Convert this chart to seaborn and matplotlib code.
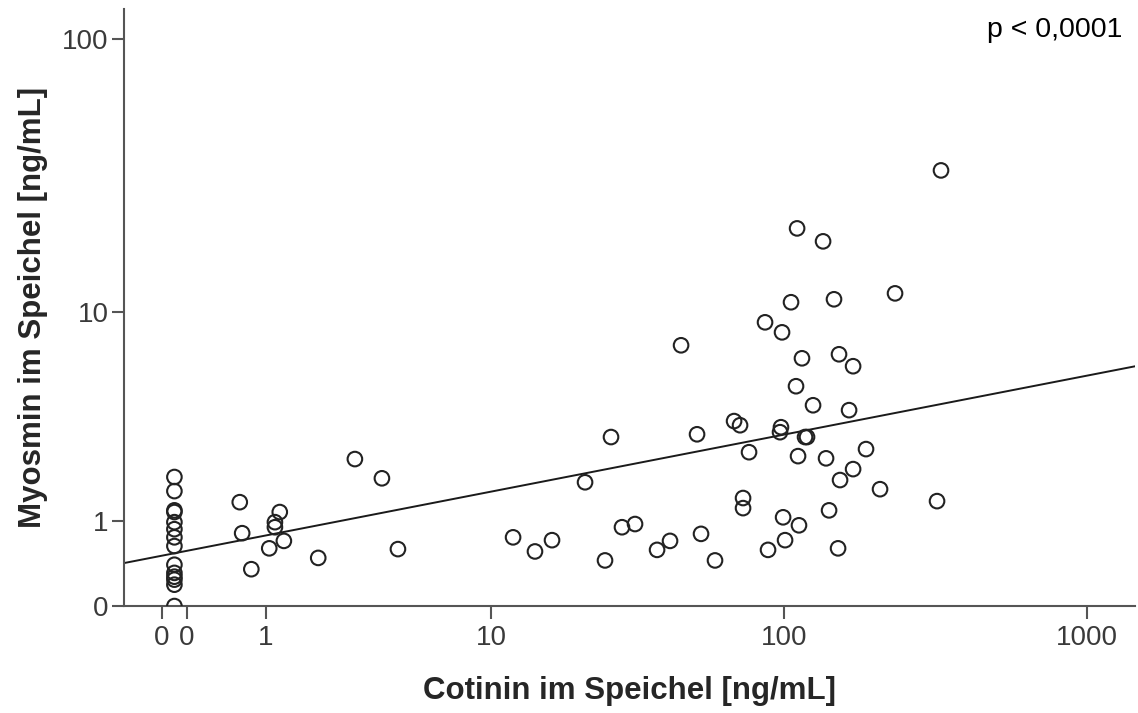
import numpy as np
import pandas as pd
import matplotlib
matplotlib.use("Agg")
import matplotlib.pyplot as plt
import seaborn as sns

# Werte (ng/mL)
cotinin = [
    0, 0, 0, 0, 0, 0, 0, 0, 0, 0, 0, 0, 0, 0,
    0.64, 0.67, 0.79, 1.05, 1.14, 1.14, 1.22, 1.29, 1.97, 2.92, 3.81, 4.43,
    11.98, 14.32, 16.43, 21.38, 25.03, 26.24, 28.6, 31.67, 37.6, 41.58,
    45.29, 51.24, 52.84, 58.85, 68.14, 71.34, 76.43, 73.0, 73.0, 86.4,
    88.4, 96.9, 97.6, 98.4, 99.2, 100.7, 105.4, 110.4, 109.5, 111.2,
    112.0, 114.6, 117.3, 119.1, 124.7, 134.6, 137.7, 140.9, 146.3, 150.9,
    152.0, 153.2, 164.1, 169.2, 169.2, 186.7, 207.7, 232.8, 320.3, 330.1,
]
myosmin = [
    1.86, 1.55, 1.18, 1.15, 0.98, 0.87, 0.75, 0.63, 0.40, 0.31, 0.27, 0.24, 0.19, 0.0,
    1.33, 0.81, 0.35, 0.60, 0.98, 0.90, 1.15, 0.70, 0.48, 2.31, 1.83, 0.59,
    0.75, 0.56, 0.71, 1.74, 0.45, 2.96, 0.90, 0.95, 0.58, 0.70,
    7.36, 3.05, 0.80, 0.45, 3.51, 3.36, 2.50, 1.41, 1.22, 9.08,
    0.58, 3.12, 3.29, 8.29, 1.06, 0.71, 10.87, 20.66, 4.99, 2.39,
    0.93, 6.52, 2.96, 2.96, 4.13, 18.49, 2.33, 1.18, 11.16, 0.60,
    6.77, 1.79, 3.93, 6.05, 2.05, 2.59, 1.59, 11.76, 1.35, 33.73,
]

# Regressionsgerade im transformierten Raum (log10(x+1))
fit_intercept = 0.1867
fit_slope = 0.2094

x_ticks = [-0.1, 0.1, 1, 10, 100, 1000]
x_ticklabels = ["0", "0", "1", "10", "100", "1000"]
y_ticks = [0, 1, 10, 100]
y_ticklabels = ["0", "1", "10", "100"]


def safe_log(v):
    v = np.asarray(v, dtype=float)
    return np.sign(v) * np.log10(np.abs(v) + 1)


def safe_exp(t):
    t = np.asarray(t, dtype=float)
    return np.sign(t) * (10 ** np.abs(t) - 1)


df = pd.DataFrame({"cotinin": cotinin, "myosmin": myosmin})

sns.set_theme(style="white")
plt.rcParams["font.family"] = ["Liberation Sans", "DejaVu Sans"]

fig = plt.figure(figsize=(11.38, 7.13), dpi=100)
ax = fig.add_axes([0.109, 0.150, 0.8884, 0.837])

sns.scatterplot(data=df, x="cotinin", y="myosmin", ax=ax, marker="o",
                s=110, facecolor="none", edgecolor="#222222", linewidth=1.5,
                zorder=3)

x_min, x_max = -0.464, 1437
xs = safe_exp(np.linspace(safe_log(x_min), safe_log(x_max), 50))
ys = safe_exp(fit_intercept + fit_slope * safe_log(xs))
sns.lineplot(x=xs, y=ys, ax=ax, color="#1a1a1a", linewidth=1.4, zorder=2)

ax.set_xscale("function", functions=(safe_log, safe_exp))
ax.set_yscale("function", functions=(safe_log, safe_exp))
ax.set_xlim(x_min, x_max)
ax.set_ylim(0, 128)

ax.set_xticks(x_ticks)
ax.set_xticklabels(x_ticklabels)
ax.set_yticks(y_ticks)
ax.set_yticklabels(y_ticklabels)
ax.minorticks_off()

for side in ["top", "right"]:
    ax.spines[side].set_visible(False)
for side in ["left", "bottom"]:
    ax.spines[side].set_color("#555555")
    ax.spines[side].set_linewidth(1.5)

ax.tick_params(axis="both", direction="out", length=9, width=1.5,
               color="#555555", labelsize=20, labelcolor="#3a3a3a",
               bottom=True, left=True)
ax.tick_params(axis="x", pad=5)
ax.tick_params(axis="y", pad=2)

ax.set_xlabel("Cotinin im Speichel [ng/mL]", fontsize=22.5, fontweight="bold",
              labelpad=18)
ax.set_ylabel("Myosmin im Speichel [ng/mL]", fontsize=22.5, fontweight="bold",
              labelpad=10)

fig.text(0.986, 0.958, "p < 0,0001", ha="right", va="center", fontsize=20.5,
         color="black")

fig.savefig("out.png", dpi=100)
plt.close(fig)
